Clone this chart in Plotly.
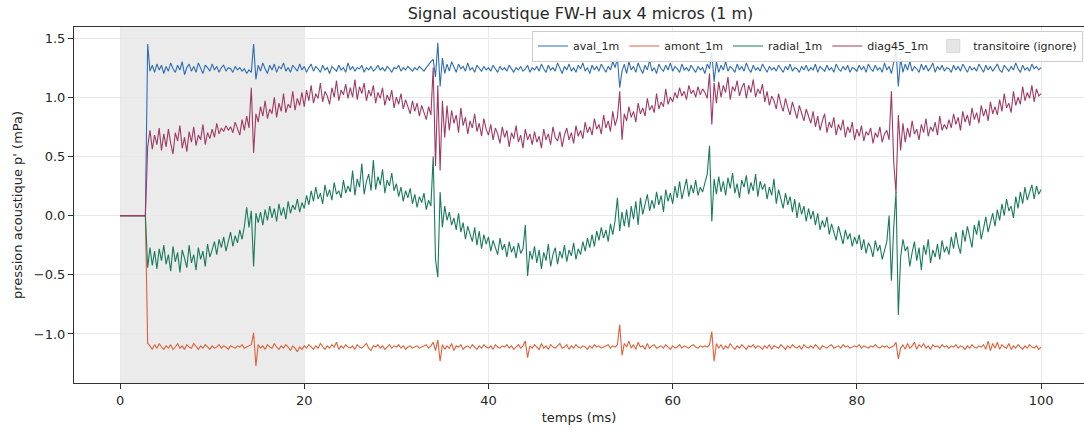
import plotly.graph_objects as go

time_step_ms = 0.25
n_samples = 401
temps_ms = [round(i * time_step_ms, 2) for i in range(n_samples)]

aval_1m = [
    0, 0, 0, 0, 0, 0, 0, 0, 0, 0, 0, 0, 1.45, 1.22, 1.27, 1.21, 1.28, 1.23, 1.27, 1.20,
    1.26, 1.22, 1.29, 1.24, 1.21, 1.27, 1.23, 1.30, 1.19, 1.25, 1.28, 1.22, 1.26, 1.21, 1.29, 1.24, 1.20, 1.27, 1.25, 1.22,
    1.28, 1.23, 1.26, 1.21, 1.25, 1.27, 1.22, 1.25, 1.24, 1.21, 1.26, 1.23, 1.25, 1.22, 1.24, 1.20, 1.23, 1.21, 1.45, 1.15,
    1.27, 1.22, 1.29, 1.24, 1.20, 1.27, 1.23, 1.28, 1.21, 1.26, 1.24, 1.29, 1.22, 1.25, 1.21, 1.27, 1.24, 1.22, 1.28, 1.23,
    1.26, 1.21, 1.25, 1.28, 1.22, 1.26, 1.24, 1.21, 1.27, 1.23, 1.25, 1.20, 1.26, 1.24, 1.22, 1.27, 1.23, 1.25, 1.21, 1.29,
    1.23, 1.26, 1.22, 1.25, 1.24, 1.27, 1.21, 1.25, 1.23, 1.26, 1.22, 1.24, 1.27, 1.23, 1.25, 1.22, 1.26, 1.24, 1.21, 1.25,
    1.24, 1.27, 1.22, 1.25, 1.23, 1.26, 1.24, 1.22, 1.25, 1.23, 1.26, 1.24, 1.22, 1.25, 1.28, 1.30, 1.32, 1.17, 1.46, 1.09,
    1.33, 1.20, 1.28, 1.22, 1.30, 1.25, 1.21, 1.28, 1.24, 1.26, 1.22, 1.29, 1.23, 1.25, 1.21, 1.27, 1.24, 1.22, 1.26, 1.23,
    1.25, 1.22, 1.27, 1.24, 1.21, 1.26, 1.23, 1.25, 1.22, 1.27, 1.24, 1.21, 1.25, 1.23, 1.26, 1.22, 1.24, 1.27, 1.21, 1.25,
    1.23, 1.26, 1.22, 1.28, 1.24, 1.21, 1.27, 1.23, 1.25, 1.22, 1.29, 1.24, 1.20, 1.26, 1.23, 1.28, 1.22, 1.25, 1.21, 1.27,
    1.24, 1.29, 1.22, 1.25, 1.20, 1.27, 1.23, 1.26, 1.22, 1.28, 1.24, 1.21, 1.26, 1.23, 1.30, 1.25, 1.33, 1.08, 1.22, 1.28,
    1.20, 1.30, 1.23, 1.26, 1.21, 1.29, 1.24, 1.20, 1.27, 1.23, 1.31, 1.22, 1.25, 1.20, 1.28, 1.24, 1.22, 1.27, 1.23, 1.29,
    1.22, 1.26, 1.24, 1.21, 1.28, 1.23, 1.25, 1.22, 1.27, 1.24, 1.21, 1.26, 1.23, 1.25, 1.20, 1.28, 1.24, 1.38, 1.13, 1.30,
    1.21, 1.27, 1.23, 1.30, 1.22, 1.26, 1.24, 1.21, 1.28, 1.23, 1.26, 1.22, 1.29, 1.24, 1.21, 1.27, 1.23, 1.25, 1.22, 1.28,
    1.24, 1.21, 1.26, 1.23, 1.25, 1.22, 1.27, 1.24, 1.21, 1.26, 1.23, 1.28, 1.22, 1.25, 1.24, 1.21, 1.26, 1.23, 1.27, 1.22,
    1.25, 1.23, 1.28, 1.21, 1.26, 1.24, 1.22, 1.27, 1.23, 1.25, 1.21, 1.28, 1.24, 1.22, 1.26, 1.23, 1.27, 1.21, 1.25, 1.24,
    1.22, 1.27, 1.23, 1.26, 1.21, 1.28, 1.24, 1.22, 1.27, 1.23, 1.25, 1.21, 1.29, 1.23, 1.26, 1.20, 1.31, 1.39, 1.09, 1.33,
    1.21, 1.28, 1.23, 1.30, 1.22, 1.26, 1.24, 1.21, 1.28, 1.23, 1.27, 1.22, 1.25, 1.29, 1.21, 1.26, 1.23, 1.27, 1.22, 1.25,
    1.24, 1.21, 1.27, 1.23, 1.26, 1.22, 1.28, 1.24, 1.21, 1.26, 1.23, 1.25, 1.22, 1.28, 1.24, 1.21, 1.27, 1.23, 1.26, 1.22,
    1.25, 1.28, 1.23, 1.21, 1.27, 1.24, 1.22, 1.26, 1.23, 1.29, 1.24, 1.21, 1.27, 1.23, 1.25, 1.22, 1.28, 1.24, 1.26, 1.23,
    1.25,
]

amont_1m = [
    0, 0, 0, 0, 0, 0, 0, 0, 0, 0, 0, 0, -1.08, -1.10, -1.13, -1.09, -1.12, -1.08, -1.11, -1.13,
    -1.10, -1.12, -1.09, -1.13, -1.11, -1.08, -1.12, -1.10, -1.13, -1.09, -1.11, -1.12, -1.08, -1.11, -1.13, -1.10, -1.12, -1.09, -1.11, -1.13,
    -1.10, -1.12, -1.11, -1.09, -1.12, -1.10, -1.11, -1.13, -1.10, -1.11, -1.12, -1.10, -1.11, -1.09, -1.12, -1.11, -1.10, -1.09, -0.99, -1.27,
    -1.09, -1.12, -1.10, -1.13, -1.09, -1.11, -1.12, -1.08, -1.11, -1.13, -1.10, -1.12, -1.09, -1.11, -1.14, -1.10, -1.12, -1.15, -1.11, -1.13,
    -1.10, -1.12, -1.09, -1.11, -1.13, -1.10, -1.12, -1.08, -1.11, -1.13, -1.10, -1.12, -1.09, -1.11, -1.07, -1.13, -1.10, -1.12, -1.09, -1.11,
    -1.12, -1.10, -1.13, -1.09, -1.11, -1.12, -1.10, -1.08, -1.12, -1.14, -1.10, -1.11, -1.09, -1.12, -1.10, -1.13, -1.11, -1.09, -1.12, -1.10,
    -1.11, -1.09, -1.12, -1.10, -1.13, -1.11, -1.10, -1.12, -1.11, -1.10, -1.12, -1.11, -1.10, -1.09, -1.12, -1.10, -1.07, -1.14, -1.05, -1.23,
    -1.09, -1.13, -1.10, -1.12, -1.08, -1.14, -1.10, -1.11, -1.09, -1.13, -1.11, -1.10, -1.12, -1.09, -1.11, -1.13, -1.10, -1.12, -1.09, -1.11,
    -1.12, -1.10, -1.13, -1.09, -1.11, -1.12, -1.10, -1.11, -1.09, -1.12, -1.10, -1.13, -1.11, -1.09, -1.12, -1.10, -1.06, -1.20, -1.10, -1.12,
    -1.09, -1.11, -1.13, -1.08, -1.12, -1.10, -1.13, -1.09, -1.11, -1.12, -1.10, -1.08, -1.12, -1.11, -1.09, -1.13, -1.10, -1.12, -1.09, -1.11,
    -1.12, -1.10, -1.11, -1.13, -1.10, -1.12, -1.09, -1.11, -1.10, -1.12, -1.11, -1.10, -1.09, -1.12, -1.10, -1.11, -1.09, -0.92, -1.18, -1.08,
    -1.11, -1.06, -1.12, -1.09, -1.13, -1.07, -1.11, -1.10, -1.13, -1.08, -1.12, -1.10, -1.09, -1.12, -1.11, -1.10, -1.12, -1.09, -1.11, -1.13,
    -1.10, -1.12, -1.11, -1.09, -1.12, -1.10, -1.11, -1.12, -1.10, -1.09, -1.11, -1.12, -1.10, -1.11, -1.10, -1.11, -1.09, -0.98, -1.23, -1.08,
    -1.12, -1.09, -1.13, -1.10, -1.12, -1.08, -1.11, -1.13, -1.10, -1.12, -1.09, -1.11, -1.13, -1.10, -1.11, -1.09, -1.12, -1.10, -1.11, -1.13,
    -1.10, -1.12, -1.09, -1.13, -1.10, -1.11, -1.12, -1.09, -1.11, -1.13, -1.10, -1.12, -1.09, -1.11, -1.12, -1.10, -1.13, -1.09, -1.11, -1.12,
    -1.10, -1.12, -1.09, -1.11, -1.13, -1.10, -1.11, -1.12, -1.10, -1.09, -1.12, -1.11, -1.10, -1.12, -1.09, -1.11, -1.10, -1.12, -1.11, -1.10,
    -1.11, -1.09, -1.12, -1.10, -1.11, -1.12, -1.10, -1.11, -1.09, -1.11, -1.12, -1.10, -1.11, -1.10, -1.12, -1.11, -1.10, -1.07, -1.21, -1.12,
    -1.09, -1.13, -1.08, -1.12, -1.10, -1.07, -1.13, -1.09, -1.11, -1.08, -1.12, -1.10, -1.13, -1.09, -1.11, -1.10, -1.12, -1.09, -1.11, -1.10,
    -1.12, -1.10, -1.11, -1.09, -1.12, -1.10, -1.11, -1.13, -1.10, -1.12, -1.09, -1.11, -1.12, -1.10, -1.11, -1.09, -1.13, -1.06, -1.14, -1.08,
    -1.12, -1.07, -1.13, -1.09, -1.11, -1.12, -1.08, -1.13, -1.10, -1.12, -1.09, -1.11, -1.13, -1.10, -1.12, -1.09, -1.11, -1.12, -1.10, -1.13,
    -1.11,
]

radial_1m = [
    0, 0, 0, 0, 0, 0, 0, 0, 0, 0, 0, 0, -0.44, -0.27, -0.42, -0.30, -0.45, -0.28, -0.38, -0.25,
    -0.41, -0.33, -0.47, -0.26, -0.39, -0.31, -0.48, -0.29, -0.36, -0.44, -0.25, -0.40, -0.33, -0.46, -0.27, -0.37, -0.30, -0.43, -0.24, -0.35,
    -0.29, -0.22, -0.33, -0.20, -0.27, -0.18, -0.30, -0.21, -0.14, -0.26, -0.17, -0.23, -0.12, -0.20, -0.09, 0.07, -0.10, 0.04, -0.43, 0.02,
    -0.06, 0.03, -0.08, 0.05, -0.04, 0.08, -0.02, 0.06, -0.05, 0.10, 0.00, 0.07, -0.03, 0.12, 0.02, 0.09, 0.05, 0.14, 0.03, 0.11,
    0.06, 0.17, 0.09, 0.21, 0.12, 0.24, 0.14, 0.19, 0.10, 0.26, 0.16, 0.22, 0.13, 0.28, 0.18, 0.21, 0.15, 0.30, 0.19, 0.25,
    0.20, 0.38, 0.17, 0.31, 0.24, 0.44, 0.18, 0.29, 0.35, 0.21, 0.47, 0.22, 0.33, 0.26, 0.39, 0.19, 0.30, 0.25, 0.36, 0.21,
    0.27, 0.16, 0.24, 0.12, 0.21, 0.15, 0.23, 0.10, 0.18, 0.07, 0.16, 0.11, 0.19, 0.05, 0.13, 0.08, 0.50, -0.37, -0.52, 0.20,
    -0.10, 0.08, -0.04, 0.03, -0.08, -0.02, -0.12, 0.02, -0.14, -0.06, -0.20, -0.09, -0.15, -0.22, -0.10, -0.25, -0.13, -0.28, -0.16, -0.24,
    -0.18, -0.30, -0.21, -0.27, -0.33, -0.19, -0.29, -0.24, -0.35, -0.22, -0.31, -0.26, -0.36, -0.23, -0.32, -0.28, -0.08, -0.51, -0.30, -0.37,
    -0.26, -0.40, -0.29, -0.45, -0.31, -0.38, -0.24, -0.43, -0.33, -0.27, -0.41, -0.30, -0.36, -0.25, -0.39, -0.29, -0.34, -0.23, -0.37, -0.28,
    -0.33, -0.22, -0.30, -0.19, -0.27, -0.16, -0.26, -0.13, -0.21, -0.10, -0.19, -0.12, -0.22, -0.07, -0.16, -0.04, 0.15, -0.13, 0.03, -0.09,
    0.05, -0.10, 0.08, -0.03, 0.12, -0.08, 0.15, 0.01, 0.10, 0.18, 0.04, 0.13, 0.06, 0.20, 0.09, 0.17, 0.03, 0.22, 0.12, 0.19,
    0.10, 0.25, 0.15, 0.29, 0.14, 0.22, 0.31, 0.16, 0.26, 0.19, 0.30, 0.17, 0.24, 0.20, 0.28, 0.35, 0.59, -0.05, 0.31, 0.18,
    0.33, 0.20, 0.29, 0.17, 0.32, 0.23, 0.36, 0.19, 0.27, 0.15, 0.30, 0.24, 0.34, 0.18, 0.28, 0.21, 0.35, 0.16, 0.29, 0.22,
    0.27, 0.14, 0.24, 0.17, 0.31, 0.10, 0.22, 0.13, 0.06, 0.19, 0.09, 0.16, 0.03, 0.14, -0.02, 0.11, 0.01, 0.08, -0.05, 0.06,
    -0.03, 0.04, -0.08, 0.02, -0.12, -0.04, -0.10, -0.01, -0.16, -0.07, -0.13, -0.21, -0.09, -0.17, -0.24, -0.12, -0.20, -0.15, -0.26, -0.18,
    -0.24, -0.16, -0.29, -0.20, -0.32, -0.23, -0.27, -0.35, -0.21, -0.30, -0.25, -0.37, -0.28, -0.22, 0.00, -0.55, -0.10, 0.20, -0.84, -0.35,
    -0.20, -0.30, -0.26, -0.43, -0.31, -0.22, -0.38, -0.27, -0.46, -0.25, -0.33, -0.20, -0.40, -0.29, -0.35, -0.24, -0.37, -0.21, -0.31, -0.26,
    -0.33, -0.18, -0.28, -0.14, -0.25, -0.32, -0.12, -0.22, -0.09, -0.19, -0.27, -0.08, -0.16, -0.04, -0.20, -0.11, -0.01, -0.14, -0.06, 0.02,
    -0.09, 0.05, -0.04, 0.10, 0.00, 0.14, 0.04, 0.08, -0.02, 0.16, 0.06, 0.20, 0.10, 0.24, 0.13, 0.19, 0.26, 0.14, 0.25, 0.18,
    0.22,
]

diag45_1m = [
    0, 0, 0, 0, 0, 0, 0, 0, 0, 0, 0, 0, 0.58, 0.72, 0.56, 0.68, 0.60, 0.74, 0.55, 0.69,
    0.58, 0.73, 0.61, 0.52, 0.70, 0.63, 0.76, 0.57, 0.66, 0.54, 0.71, 0.62, 0.75, 0.59, 0.68, 0.64, 0.77, 0.60, 0.70, 0.65,
    0.73, 0.66, 0.78, 0.69, 0.74, 0.71, 0.76, 0.72, 0.75, 0.70, 0.79, 0.73, 0.68, 0.81, 0.72, 0.84, 0.74, 1.08, 0.53, 0.86,
    0.79, 0.92, 0.84, 0.97, 0.82, 0.90, 0.86, 1.00, 0.83, 0.95, 0.88, 1.03, 0.87, 0.94, 0.91, 1.05, 0.89, 0.99, 0.93, 1.04,
    0.92, 1.06, 0.97, 1.10, 0.95, 1.03, 0.99, 1.12, 0.96, 1.05, 1.01, 0.94, 1.08, 1.00, 1.14, 0.97, 1.06, 1.02, 1.11, 0.99,
    1.08, 1.00, 1.15, 0.98, 1.09, 1.03, 1.12, 0.97, 1.06, 1.01, 1.10, 0.95, 1.04, 0.99, 1.08, 0.93, 1.02, 0.97, 1.06, 0.91,
    1.00, 0.94, 1.03, 0.90, 0.98, 0.92, 0.86, 0.97, 0.88, 0.95, 0.84, 0.93, 0.87, 0.81, 0.92, 0.85, 1.25, 0.42, 1.10, 0.38,
    0.97, 0.66, 0.93, 0.72, 0.89, 0.78, 0.85, 0.70, 0.91, 0.76, 0.83, 0.69, 0.80, 0.74, 0.86, 0.71, 0.78, 0.67, 0.82, 0.73,
    0.68, 0.77, 0.64, 0.74, 0.69, 0.61, 0.75, 0.66, 0.72, 0.58, 0.70, 0.65, 0.76, 0.62, 0.68, 0.57, 0.73, 0.64, 0.69, 0.60,
    0.71, 0.62, 0.67, 0.57, 0.73, 0.64, 0.69, 0.60, 0.75, 0.66, 0.63, 0.71, 0.58, 0.68, 0.74, 0.64, 0.70, 0.61, 0.76, 0.67,
    0.72, 0.65, 0.79, 0.70, 0.75, 0.68, 0.82, 0.73, 0.77, 0.69, 0.85, 0.74, 0.80, 0.71, 0.88, 0.76, 0.83, 1.05, 0.64, 0.86,
    0.80, 0.92, 0.83, 0.88, 0.79, 0.95, 0.86, 0.91, 0.84, 0.99, 0.89, 0.93, 0.87, 1.03, 0.90, 0.96, 0.92, 1.07, 0.94, 1.00,
    0.96, 1.04, 0.99, 1.08, 1.01, 1.05, 0.98, 1.10, 1.03, 1.06, 1.00, 1.09, 1.02, 1.07, 1.04, 0.99, 1.20, 0.77, 1.12, 0.95,
    1.13, 1.00, 1.10, 1.04, 1.17, 0.98, 1.09, 1.05, 1.14, 1.01, 1.08, 1.12, 0.99, 1.10, 1.04, 1.15, 1.00, 1.07, 1.03, 1.11,
    0.96, 1.05, 0.93, 1.01, 0.97, 0.90, 1.03, 0.94, 0.88, 0.99, 0.91, 0.85, 0.96, 0.89, 0.82, 0.93, 0.86, 0.80, 0.90, 0.83,
    0.78, 0.88, 0.75, 0.84, 0.72, 0.80, 0.86, 0.70, 0.79, 0.74, 0.83, 0.68, 0.77, 0.72, 0.81, 0.66, 0.75, 0.70, 0.79, 0.64,
    0.73, 0.67, 0.76, 0.63, 0.71, 0.68, 0.74, 0.61, 0.70, 0.66, 0.75, 0.62, 0.69, 0.72, 0.64, 1.05, 0.45, 0.19, 0.85, 0.55,
    0.78, 0.62, 0.74, 0.66, 0.80, 0.69, 0.73, 0.64, 0.77, 0.70, 0.82, 0.67, 0.75, 0.71, 0.79, 0.68, 0.84, 0.72, 0.77, 0.73,
    0.81, 0.74, 0.86, 0.77, 0.83, 0.72, 0.88, 0.79, 0.85, 0.76, 0.91, 0.81, 0.87, 0.78, 0.93, 0.84, 0.90, 0.80, 0.96, 0.86,
    0.92, 0.85, 0.98, 0.88, 1.03, 0.91, 0.95, 0.87, 1.05, 0.93, 1.00, 0.94, 1.09, 0.97, 1.04, 0.99, 1.10, 0.96, 1.07, 1.01,
    1.03,
]

series_names = ["aval_1m", "amont_1m", "radial_1m", "diag45_1m"]
series_values = [aval_1m, amont_1m, radial_1m, diag45_1m]
series_colors = ["#2e6db4", "#e0603a", "#1b7a5c", "#a03a62"]

transient_start_ms = 0
transient_end_ms = 20
transient_label = "transitoire (ignore)"

x_ticks = [0, 20, 40, 60, 80, 100]
y_ticks = [-1.0, -0.5, 0.0, 0.5, 1.0, 1.5]
y_tick_labels = ["\u22121.0", "\u22120.5", "0.0", "0.5", "1.0", "1.5"]

# ---------------- figure ----------------
FONT = "DejaVu Sans"
SHADE = "rgba(128,128,128,0.16)"
fig = go.Figure()

# transient window (shaded span)
fig.add_vrect(
    x0=transient_start_ms, x1=transient_end_ms,
    fillcolor=SHADE, line_width=0, layer="below",
)

for name, vals, col in zip(series_names, series_values, series_colors):
    fig.add_trace(go.Scatter(
        x=temps_ms, y=vals, mode="lines", name=name,
        line=dict(color=col, width=1.1),
    ))

# legend entry for the shaded span (no visible data)
fig.add_trace(go.Scatter(
    x=[None], y=[None], mode="markers", name=transient_label,
    marker=dict(symbol="square", size=13, color="#e6e6e6",
                line=dict(color="#d8d8d8", width=1)),
))

fig.update_layout(
    width=1084, height=432,
    margin=dict(l=74, r=0, t=27, b=49, autoexpand=False),
    paper_bgcolor="white", plot_bgcolor="white",
    font=dict(family=FONT, size=13, color="#262626"),
    title=dict(
        text="Signal acoustique FW-H aux 4 micros (1 m)",
        x=(74 + 1087) / 2 / 1084, xanchor="center",
        y=1 - 13 / 432, yanchor="middle", yref="container",
        font=dict(family=FONT, size=16, color="#262626"),
    ),
    showlegend=True,
    legend=dict(
        orientation="h", x=0.999, xanchor="right", y=0.99, yanchor="top",
        bgcolor="rgba(255,255,255,0.85)", bordercolor="#cccccc", borderwidth=1,
        font=dict(family=FONT, size=11, color="#262626"),
        itemwidth=30,
    ),
)

fig.update_xaxes(
    range=[-5, 104.66], tickvals=x_ticks, ticktext=[str(v) for v in x_ticks],
    showgrid=True, gridcolor="#e8e8e8", gridwidth=1, zeroline=False,
    showline=True, linecolor="#333333", linewidth=1, mirror=True,
    ticks="outside", ticklen=5, tickcolor="#333333", automargin=False,
    title=dict(text="temps (ms)", standoff=6, font=dict(family=FONT, size=13)),
)
fig.update_yaxes(
    range=[-1.414, 1.593], tickvals=y_ticks, ticktext=y_tick_labels,
    showgrid=True, gridcolor="#e8e8e8", gridwidth=1, zeroline=False,
    showline=True, linecolor="#333333", linewidth=1,
    ticks="outside", ticklen=5, tickcolor="#333333", automargin=False,
    title=dict(text="pression acoustique p' (mPa)", standoff=8, font=dict(family=FONT, size=13)),
)

fig.write_html(
    "out.html",
    config={"displayModeBar": False},
    post_script="document.body.style.margin='0px';document.body.style.padding='0px';",
)
